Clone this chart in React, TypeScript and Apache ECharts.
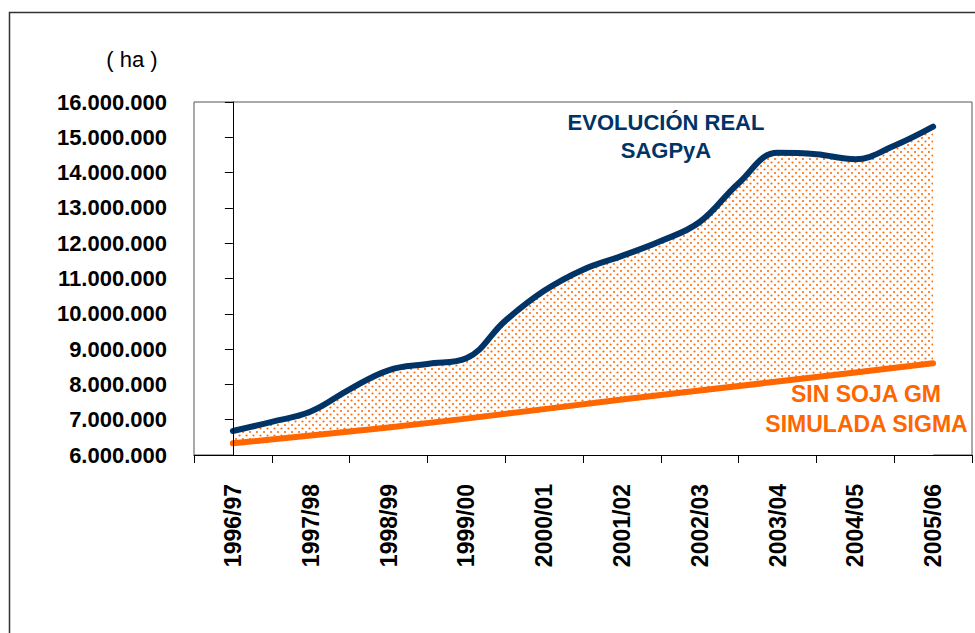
import React, { useEffect, useRef } from "react";
import * as echarts from "echarts";

// Campaign labels (x axis)
const categories = [
  "1996/97", "1997/98", "1998/99", "1999/00", "2000/01",
  "2001/02", "2002/03", "2003/04", "2004/05", "2005/06",
];

// Real evolution (SAGPyA), read at every half campaign, hectares
const realValues = [
  6680000, 6940000, 7230000, 7860000, 8400000, 8580000, 8740000,
  9800000, 10650000, 11250000, 11640000, 12060000, 12600000,
  13700000, 14560000, 14520000, 14380000, 14760000, 15300000,
];

// Simulated without GM soy (SIGMA), one value per campaign, hectares
const simulatedValues = [
  6330000, 6550000, 6780000, 7030000, 7300000,
  7570000, 7830000, 8080000, 8340000, 8600000,
];

// Y axis range
const yMin = 6000000;
const yMax = 16000000;
const yStep = 1000000;

const NAVY = "#003366";
const ORANGE = "#ff6600";
const FONT = "'Liberation Sans', Arial, Helvetica, sans-serif";

function fmt(v: number): string {
  return String(Math.round(v)).replace(/\B(?=(\d{3})+(?!\d))/g, ".");
}

function makePattern(): HTMLCanvasElement {
  const c = document.createElement("canvas");
  c.width = 7;
  c.height = 7;
  const ctx = c.getContext("2d")!;
  ctx.fillStyle = "rgba(255,102,0,0.95)";
  ctx.beginPath();
  ctx.arc(1.5, 1.5, 1.1, 0, Math.PI * 2);
  ctx.fill();
  ctx.beginPath();
  ctx.arc(5, 5, 1.1, 0, Math.PI * 2);
  ctx.fill();
  return c;
}

export default function App() {
  const ref = useRef<HTMLDivElement>(null);

  useEffect(() => {
    if (!ref.current) return;
    const chart = echarts.init(ref.current, undefined, { renderer: "svg" });
    const pattern = makePattern();

    const realData = realValues.map((v, i) => [i / 2, v]);
    const simData = simulatedValues.map((v, i) => [i, v]);

    chart.setOption({
      animation: false,
      backgroundColor: "#ffffff",
      grid: {
        left: 194,
        right: 3,
        top: 102,
        bottom: 178,
        show: true,
        borderColor: "#555555",
        borderWidth: 1,
        backgroundColor: "transparent",
        containLabel: false,
        outerBoundsMode: "none",
      },
      xAxis: [
        {
          type: "category",
          data: categories,
          boundaryGap: true,
          z: 5,
          axisLine: { show: true, lineStyle: { color: "#000", width: 1 } },
          axisTick: { show: true, alignWithLabel: false, length: 8, lineStyle: { color: "#000" } },
          axisLabel: {
            rotate: 90,
            margin: 29,
            color: "#000",
            fontFamily: FONT,
            fontWeight: "bold",
            fontSize: 23,
            interval: 0,
          },
          splitLine: { show: false },
        },
        {
          type: "value",
          min: -0.5,
          max: 9.5,
          show: false,
          splitLine: { show: false },
        },
      ],
      yAxis: {
        type: "value",
        min: yMin,
        max: yMax,
        interval: yStep,
        z: 5,
        axisLine: { show: true, lineStyle: { color: "#000", width: 1 } },
        axisTick: { show: true, length: 8, lineStyle: { color: "#000" } },
        axisLabel: {
          margin: 27,
          color: "#000",
          fontFamily: FONT,
          fontWeight: "bold",
          fontSize: 22,
          formatter: (v: number) => fmt(v),
        },
        splitLine: { show: false },
      },
      series: [
        {
          name: "EVOLUCIÓN REAL SAGPyA",
          type: "line",
          xAxisIndex: 1,
          data: realData,
          smooth: 0.4,
          symbol: "none",
          z: 2,
          lineStyle: { color: NAVY, width: 6, cap: "round", join: "round" },
          areaStyle: {
            origin: "start",
            color: { image: pattern, repeat: "repeat" },
            opacity: 1,
          },
        },
        {
          name: "SIN SOJA GM SIMULADA SIGMA",
          type: "line",
          xAxisIndex: 1,
          data: simData,
          smooth: false,
          symbol: "none",
          z: 3,
          lineStyle: { color: ORANGE, width: 6, cap: "round", join: "round" },
          areaStyle: { origin: "start", color: "#ffffff", opacity: 1 },
        },
      ],
      graphic: [
        {
          type: "rect",
          silent: true,
          z: 0,
          shape: { x: 9.5, y: 12.5, width: 1000, height: 700 },
          style: { fill: "none", stroke: "#333", lineWidth: 1.5 },
        },
        {
          type: "text",
          x: 132,
          y: 59,
          style: {
            text: "( ha )",
            fill: "#000",
            font: `normal 22px ${FONT}`,
            textAlign: "center",
            textVerticalAlign: "middle",
          },
        },
        {
          type: "text",
          x: 666,
          y: 122.5,
          z: 10,
          style: {
            text: "EVOLUCIÓN REAL",
            fill: NAVY,
            font: `bold 22px ${FONT}`,
            textAlign: "center",
            textVerticalAlign: "middle",
          },
        },
        {
          type: "text",
          x: 666,
          y: 150.5,
          z: 10,
          style: {
            text: "SAGPyA",
            fill: NAVY,
            font: `bold 22px ${FONT}`,
            textAlign: "center",
            textVerticalAlign: "middle",
          },
        },
        {
          type: "text",
          x: 866,
          y: 393.5,
          z: 10,
          style: {
            text: "SIN SOJA GM",
            fill: ORANGE,
            font: `bold 23px ${FONT}`,
            textAlign: "center",
            textVerticalAlign: "middle",
          },
        },
        {
          type: "text",
          x: 866.5,
          y: 424,
          z: 10,
          style: {
            text: "SIMULADA SIGMA",
            fill: ORANGE,
            font: `bold 23px ${FONT}`,
            textAlign: "center",
            textVerticalAlign: "middle",
          },
        },
      ],
    });

    return () => chart.dispose();
  }, []);

  return (
    <div
      ref={ref}
      style={{ position: "fixed", left: 0, top: 0, width: 975, height: 633, background: "#fff" }}
    />
  );
}
